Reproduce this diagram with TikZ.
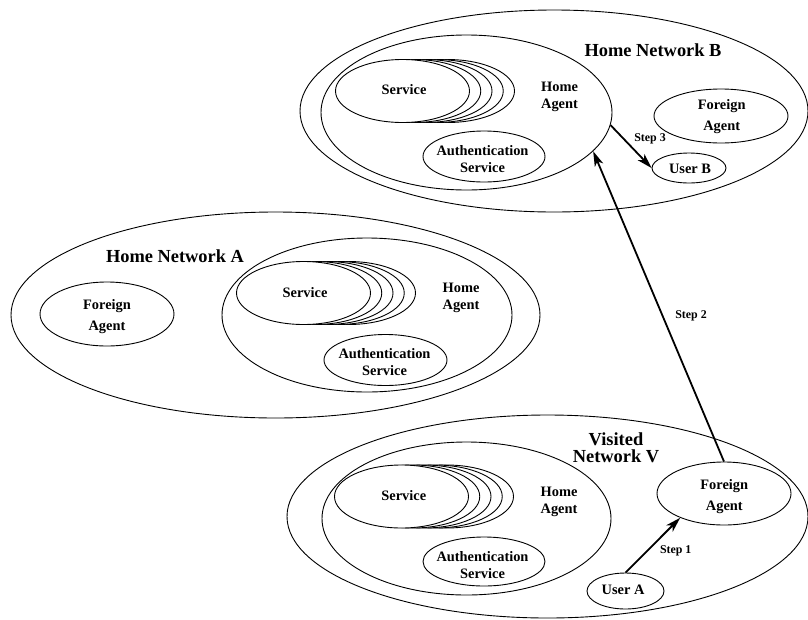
\documentclass[tikz,border=0pt]{standalone}
\usepackage{fontspec}
\setmainfont{Liberation Serif}
\usetikzlibrary{shapes.geometric,arrows.meta}

% a stack of overlapping service ellipses, the front one named #1
\newcommand\servicestack[3]{%
  \foreach \k in {4,3,2,1}
    \node[svc] at (#2+11.25*\k,#3) {};
  \node[svc] (#1) at (#2,#3) {};
}

\begin{document}
\begin{tikzpicture}[x=1pt,y=-1pt,
  oval/.style={draw, ellipse, inner sep=0pt, line width=0.9pt},
  svc/.style={oval, fill=white, minimum width=134pt, minimum height=63pt},
  lbl/.style={font=\bfseries\fontsize{14.4}{17}\selectfont, align=center, inner sep=0pt},
  falbl/.style={font=\bfseries\fontsize{14.4}{21}\selectfont, align=center, inner sep=0pt},
  title/.style={font=\bfseries\fontsize{18.4}{17}\selectfont, align=center, inner sep=0pt},
  steplbl/.style={font=\bfseries\fontsize{11.9}{14}\selectfont, inner sep=0pt},
  flow/.style={line width=1.8pt, -{Stealth[length=15pt,width=9pt,inset=4pt]}}
]
\useasboundingbox (0,0) rectangle (808,619);

% ---------------- Home Network B ----------------
\node[oval, minimum width=508pt, minimum height=202pt] (netB) at (554,111) {};
\node[oval, minimum width=291pt, minimum height=155pt] (haB) at (466.5,112.5) {};
\servicestack{svcB}{402.5}{91}
\node[lbl] at (404,90) {Service};
\node[lbl] (haBt) at (559.5,96.7) {Home\\Agent};
\node[oval, minimum width=122pt, minimum height=51pt] (auB) at (484,156.5) {};
\node[lbl] at (482.5,158.7) {Authentication\\Service};
\node[oval, minimum width=134pt, minimum height=54pt] (faB) at (721,116) {};
\node[falbl] at (721.7,116.3) {Foreign\\Agent};
\node[oval, minimum width=74pt, minimum height=30pt] (ub) at (689,168) {};
\node[lbl] at (690,169) {User B};
\node[title] at (653,50.3) {Home Network B};

% ---------------- Home Network A ----------------
\node[oval, minimum width=529pt, minimum height=206pt] (netA) at (275.5,315) {};
\node[oval, minimum width=134pt, minimum height=64pt] (faA) at (107,314) {};
\node[falbl] at (107,317) {Foreign\\Agent};
\node[oval, minimum width=290pt, minimum height=154pt] (haA) at (367,315) {};
\servicestack{svcA}{303.5}{293}
\node[lbl] at (305,293) {Service};
\node[lbl] at (461,298) {Home\\Agent};
\node[oval, minimum width=123pt, minimum height=51pt] (auA) at (385.5,360) {};
\node[lbl] at (384.5,362.5) {Authentication\\Service};
\node[title] at (175,256.7) {Home Network A};

% ---------------- Visited Network V ----------------
\node[oval, minimum width=521pt, minimum height=203pt] (netV) at (547.5,516.5) {};
\node[oval, minimum width=289pt, minimum height=153pt] (haV) at (466.5,518.5) {};
\servicestack{svcV}{401.5}{496.5}
\node[lbl] at (403.8,496) {Service};
\node[lbl] at (559,501.7) {Home\\Agent};
\node[oval, minimum width=122pt, minimum height=49pt] (auV) at (484,561.5) {};
\node[lbl] at (482.5,565) {Authentication\\Service};
\node[oval, minimum width=134pt, minimum height=63pt] (fav) at (724,493.5) {};
\node[falbl] at (724.3,496.8) {Foreign\\Agent};
\node[oval, minimum width=77pt, minimum height=36pt] (ua) at (625.5,591) {};
\node[lbl] at (623,590.3) {User A};
\node[title] at (616,447.5) {Visited\\Network V};

% ---------------- message flow ----------------
\draw[flow] (ua.north) -- (fav.209);
\node[steplbl] at (675.7,551.3) {Step 1};
\draw[flow] (fav.north) -- (haB.343);
\node[steplbl] at (691,316) {Step 2};
\draw[flow] (haB.355) -- (ub.west);
\node[steplbl] at (650,139) {Step 3};
\end{tikzpicture}
\end{document}
